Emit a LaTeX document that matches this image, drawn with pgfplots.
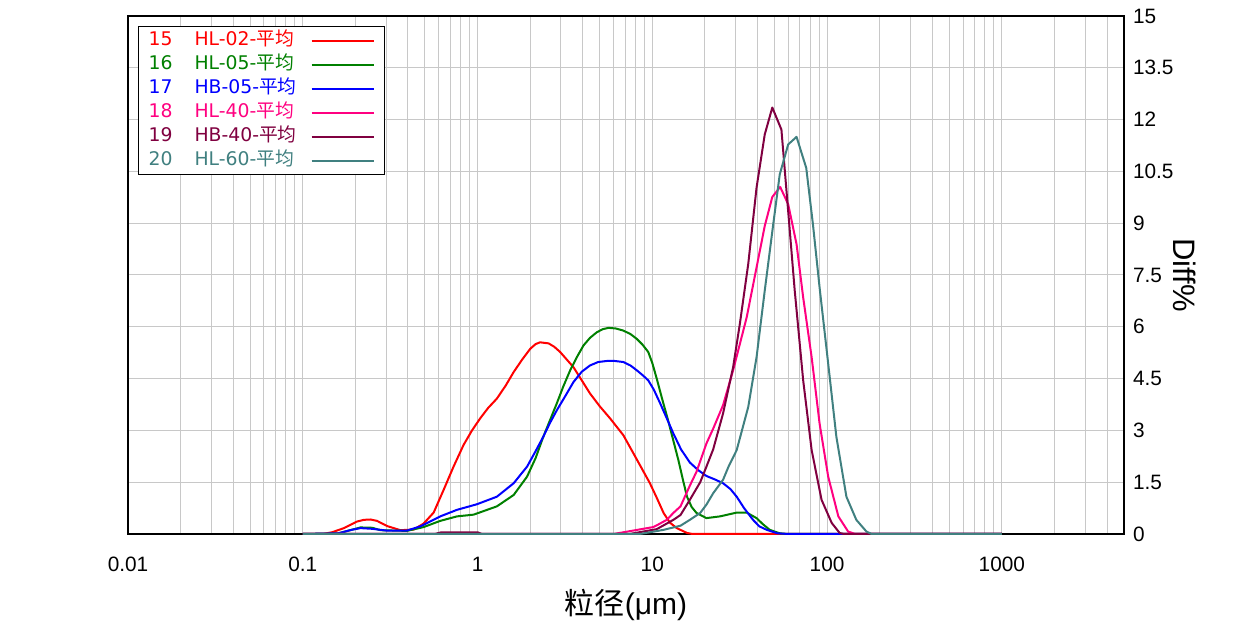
\documentclass[border=0pt]{standalone}
\usepackage{fontspec}
\usepackage{pgfplots}
\pgfplotsset{compat=1.18}
\setmainfont{Liberation Sans}
\newfontfamily\cjk{Noto Sans CJK SC}
\newfontfamily\legfont{DejaVu Sans}
\definecolor{cRed}{RGB}{255,0,0}
\definecolor{cGreen}{RGB}{0,128,0}
\definecolor{cBlue}{RGB}{0,0,255}
\definecolor{cPink}{RGB}{255,0,128}
\definecolor{cDark}{RGB}{128,0,64}
\definecolor{cTeal}{RGB}{64,128,128}
\definecolor{gridc}{RGB}{200,200,200}
\begin{document}
\begin{tikzpicture}
\begin{axis}[
  scale only axis,
  width=498pt, height=259pt,
  xmode=log,
  xmin=0.01, xmax=5000,
  ymin=0, ymax=15,
  clip=false,
  yticklabel pos=right,
  xtick={0.01,0.1,1,10,100,1000},
  xticklabels={0.01,0.1,1,10,100,1000},
  minor xtick={0.02,0.03,0.04,0.05,0.06,0.07,0.08,0.09,
               0.2,0.3,0.4,0.5,0.6,0.7,0.8,0.9,
               2,3,4,5,6,7,8,9,
               20,30,40,50,60,70,80,90,
               200,300,400,500,600,700,800,900,
               2000,3000,4000},
  ytick={0,1.5,3,4.5,6,7.5,9,10.5,12,13.5,15},
  yticklabels={0,1.5,3,4.5,6,7.5,9,10.5,12,13.5,15},
  major tick length=0pt, minor tick length=0pt,
  xmajorgrids, xminorgrids, ymajorgrids,
  grid style={draw=gridc, line width=0.5pt},
  minor grid style={draw=gridc, line width=0.5pt},
  axis line style={line width=0.8pt},
  ticklabel style={font=\fontsize{10.4}{12}\selectfont},
  xticklabel style={yshift=-8pt},
  yticklabel style={xshift=1pt},
  xlabel={{\cjk 粒径}(μm)},
  xlabel style={at={(axis description cs:0.5,-0.137)}, anchor=center, font=\fontsize{15}{18}\selectfont},
  ylabel={Diff\%},
  every axis y label/.style={at={(axis description cs:1.061,0.5)}, anchor=center, rotate=-90, font=\fontsize{15.5}{18}\selectfont},
  legend plot pos=right,
  legend cell align=left,
  legend image code/.code={\draw[#1] (0pt,0pt) -- (31pt,0pt);},
  legend style={at={(axis description cs:0.01,0.9807)}, anchor=north west,
    draw=black, line width=0.7pt, fill=white,
    inner xsep=5pt, inner ysep=1pt,
    font=\legfont\fontsize{9.4}{11}\selectfont,
    nodes={inner xsep=0pt, inner ysep=1.5pt, text height=6.8pt, text depth=2.2pt},
    /tikz/every odd column/.append style={column sep=7pt},
    row sep=0pt},
  every axis plot/.append style={line width=1pt, line join=round},
]
\addplot[cRed] coordinates {(0.1,0) (0.13,0) (0.147,0.05) (0.172,0.17) (0.204,0.36) (0.224,0.41) (0.244,0.42) (0.266,0.38) (0.304,0.23) (0.362,0.11) (0.431,0.13) (0.491,0.30) (0.561,0.62) (0.64,1.28) (0.729,1.95) (0.832,2.58) (0.93,3.0) (1.036,3.35) (1.15,3.65) (1.29,3.92) (1.45,4.3) (1.61,4.69) (1.8,5.05) (2.0,5.36) (2.15,5.5) (2.28,5.55) (2.55,5.52) (2.75,5.42) (2.97,5.27) (3.54,4.83) (4.40,4.07) (5.0,3.7) (5.73,3.35) (6.83,2.86) (7.79,2.34) (8.7,1.9) (9.69,1.47) (10.6,1.05) (11.6,0.61) (12.6,0.33) (13.8,0.17) (15.8,0.03) (17,0) (1000,0)};
\addlegendentry{\textcolor{cRed}{15\hspace{11pt}HL-02-{\cjk 平均}}}
\addplot[cGreen] coordinates {(0.1,0) (0.16,0.02) (0.19,0.12) (0.214,0.19) (0.25,0.18) (0.278,0.11) (0.395,0.09) (0.491,0.2) (0.612,0.38) (0.763,0.51) (0.949,0.56) (1.29,0.80) (1.61,1.13) (1.92,1.66) (2.15,2.2) (2.38,2.82) (2.6,3.3) (2.84,3.78) (3.1,4.28) (3.39,4.74) (3.7,5.12) (4.04,5.46) (4.4,5.68) (4.81,5.84) (5.2,5.93) (5.61,5.97) (6.2,5.95) (6.83,5.89) (7.5,5.79) (8.15,5.65) (8.8,5.48) (9.48,5.27) (10.0,4.95) (10.6,4.50) (11.4,3.9) (12.3,3.30) (13.2,2.7) (14.1,2.14) (15.0,1.55) (15.8,1.08) (16.8,0.78) (17.9,0.61) (20.4,0.46) (24.4,0.51) (30.4,0.62) (34.7,0.62) (39.5,0.46) (43,0.28) (47,0.12) (53.6,0.02) (60,0) (1000,0)};
\addlegendentry{\textcolor{cGreen}{16\hspace{11pt}HL-05-{\cjk 平均}}}
\addplot[cBlue] coordinates {(0.1,0) (0.16,0.02) (0.19,0.12) (0.214,0.17) (0.25,0.15) (0.3,0.1) (0.395,0.1) (0.47,0.22) (0.612,0.51) (0.763,0.70) (0.99,0.86) (1.29,1.08) (1.61,1.47) (1.92,1.95) (2.15,2.4) (2.38,2.82) (2.6,3.22) (2.84,3.58) (3.2,4.02) (3.54,4.40) (3.95,4.7) (4.40,4.88) (4.9,4.98) (5.49,5.01) (6.1,5.01) (6.83,4.98) (7.5,4.88) (8.15,4.74) (8.8,4.6) (9.48,4.45) (10.2,4.18) (11.1,3.78) (12.1,3.35) (13.2,2.91) (14.6,2.45) (16.4,2.07) (18.3,1.85) (20.4,1.68) (22.8,1.58) (25.4,1.47) (28,1.3) (30.4,1.08) (33.5,0.75) (37.7,0.41) (41,0.22) (45.2,0.12) (52,0.02) (60,0) (1000,0)};
\addlegendentry{\textcolor{cBlue}{17\hspace{11pt}HB-05-{\cjk 平均}}}
\addplot[cPink] coordinates {(0.1,0) (6.0,0) (7.79,0.1) (10.1,0.2) (10.6,0.25) (12.1,0.41) (13.2,0.61) (14.5,0.8) (16.4,1.4) (17.9,1.8) (20.4,2.62) (22.3,3.05) (25.4,3.73) (29.0,4.74) (34.7,6.28) (39.5,7.72) (44.0,8.92) (48.6,9.76) (53.9,10.05) (59.9,9.55) (66.9,8.39) (73.0,6.85) (81.6,5.12) (90.6,3.20) (101.5,1.66) (116,0.51) (132,0.07) (145,0) (1000,0)};
\addlegendentry{\textcolor{cPink}{18\hspace{11pt}HL-40-{\cjk 平均}}}
\addplot[cDark] coordinates {(0.1,0) (0.57,0) (0.62,0.05) (1.0,0.05) (1.06,0) (7.4,0) (10.6,0.14) (13.2,0.41) (14.5,0.55) (16.4,0.99) (18.8,1.5) (20.4,1.95) (22.3,2.45) (25.4,3.49) (29.0,4.83) (31.7,6.09) (35.4,7.82) (39.5,10.03) (44.0,11.57) (48.6,12.35) (54.8,11.71) (59.9,9.35) (65.3,7.05) (73.0,4.45) (81.6,2.43) (93.0,0.99) (106.3,0.32) (118,0.03) (125,0) (1000,0)};
\addlegendentry{\textcolor{cDark}{19\hspace{11pt}HB-40-{\cjk 平均}}}
\addplot[cTeal] coordinates {(0.1,0) (8.5,0) (11.6,0.12) (14.5,0.24) (16.4,0.41) (18.8,0.61) (20.4,0.85) (22.3,1.18) (25.4,1.57) (27.3,1.95) (30.4,2.43) (35.4,3.68) (39.5,5.12) (44.0,7.05) (49.2,8.97) (53.6,10.41) (59.9,11.28) (66.9,11.5) (76.0,10.6) (83.0,8.97) (90.6,7.14) (101.5,4.93) (113,2.82) (129,1.08) (147,0.41) (168,0.07) (180,0) (1000,0)};
\addlegendentry{\textcolor{cTeal}{20\hspace{11pt}HL-60-{\cjk 平均}}}
\end{axis}
\pgfresetboundingbox
\path[use as bounding box] (-64pt,-53pt) rectangle (556pt,267pt);
\end{tikzpicture}
\end{document}
